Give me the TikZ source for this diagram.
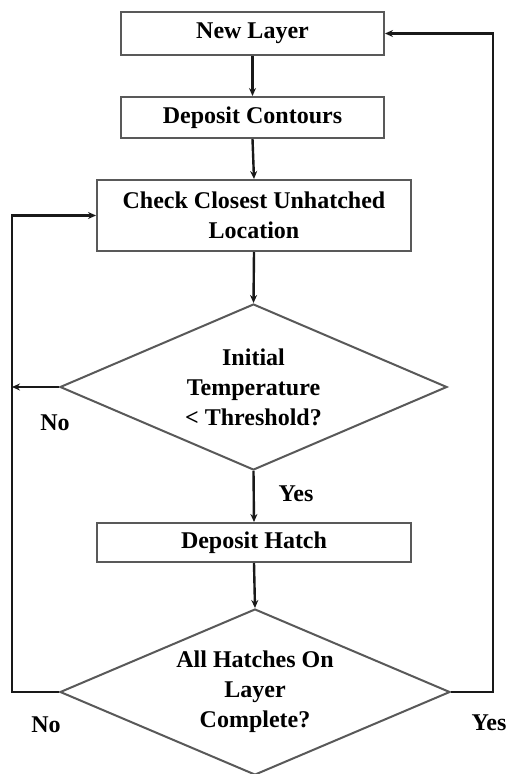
\documentclass[tikz,border=0pt]{standalone}
\usepackage{fontspec}
\setmainfont{Liberation Serif}
\usetikzlibrary{shapes.geometric,arrows.meta}
\begin{document}
\begin{tikzpicture}[x=1pt,y=-1pt,
  every node/.style={font=\fontsize{24}{30}\selectfont\bfseries, text=black},
  box/.style={draw=black!65, line width=2pt, rectangle, inner sep=0pt, align=center},
  dia/.style={draw=black!65, line width=2pt, diamond, aspect=2.33, inner sep=0pt, align=center},
  conn/.style={line width=2.4pt, draw=black!90, -{Stealth[length=8pt,width=7pt]}},
  lab/.style={inner sep=0pt}]
\useasboundingbox (0,0) rectangle (506,774);
\fill[white] (0,0) rectangle (506,774);
\node[box, minimum width=263pt, minimum height=43pt] (new) at (252.5,33.5) {New Layer};
\node[box, minimum width=263pt, minimum height=41pt] (dep) at (252.5,117.5) {Deposit Contours};
\node[box, minimum width=314pt, minimum height=71pt] (check) at (254,215.5) {Check Closest Unhatched\\Location};
\node[dia, minimum width=387pt, minimum height=166pt] (d1) at (253.5,387) {Initial\\Temperature\\{<} Threshold?};
\node[box, minimum width=314pt, minimum height=39pt] (hatch) at (254,542.5) {Deposit Hatch};
\node[dia, minimum width=390pt, minimum height=166pt] (d2) at (255,692) {All Hatches On\\Layer\\Complete?};
\coordinate (lb) at (12,692);
\coordinate (lt) at (12,215.5);
\coordinate (ln) at (12,387);
\coordinate (rb) at (493,692);
\coordinate (rt) at (493,33.5);
\draw[conn] (new.south) -- (dep.north);
\draw[conn] (dep.south) -- (check.north);
\draw[conn] (check.south) -- (d1.north);
\draw[conn] (d1.south) -- (hatch.north);
\draw[conn] (hatch.south) -- (d2.north);
\draw[conn] (d1.west) -- (ln);
\draw[conn] (d2.west) -- (lb) -- (lt) -- (check.west);
\draw[conn] (d2.east) -- (rb) -- (rt) -- (new.east);
\node[lab] (yes1) at (296,494) {Yes};
\node[lab] (no1) at (55,423) {No};
\node[lab] (no2) at (46,725) {No};
\node[lab] (yes2) at (489,723) {Yes};
\end{tikzpicture}
\end{document}
